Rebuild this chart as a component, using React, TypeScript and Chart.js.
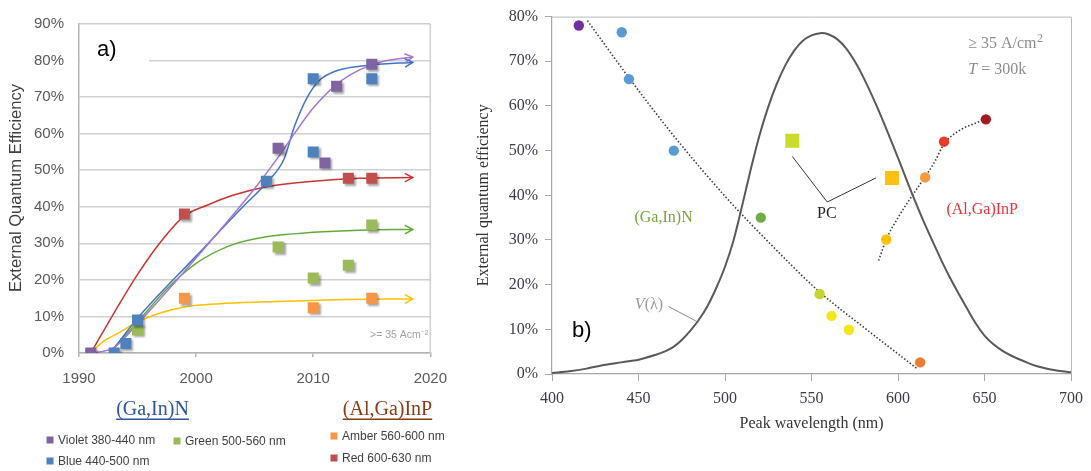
import React, { useEffect, useRef } from "react";
import { Chart, registerables } from "chart.js";

Chart.register(...registerables);

const SANS = "'Liberation Sans', Arial, sans-serif";
const SERIF = "'Liberation Serif', 'Times New Roman', serif";

/* ───────────── Panel a) : EQE by year ───────────── */

const yearMin = 1990;
const yearMax = 2020;
const yearStep = 10;
const eqeAMax = 90;
const eqeStep = 10;

const seriesLabels = ["Violet 380-440 nm", "Blue 440-500 nm", "Green 500-560 nm", "Amber 560-600 nm", "Red 600-630 nm"];
const seriesColors = ["#8064A2", "#4F81BD", "#9BBB59", "#F79646", "#C0504D"];
const trendColors = ["#A477D6", "#4472C4", "#62AA3A", "#FFC000", "#CC3333"];
const groupTitles = ["(Ga,In)N", "(Al,Ga)InP"];
const groupColors = ["#2E54A4", "#8B3A16"];
const currentNoteA = ">= 35 Acm\u207B\u00B2";

// measured devices
const violetYears = [1991, 2007, 2011, 2012, 2015];
const violetEqe = [0, 56, 52, 73, 79];
const blueYears = [1993, 1994, 1995, 2006, 2010, 2010, 2015];
const blueEqe = [0, 2.6, 9, 47, 55, 75, 75];
const greenYears = [1995, 2007, 2010, 2013, 2015];
const greenEqe = [6.3, 29, 20.5, 24, 35];
const amberYears = [1999, 2010, 2015];
const amberEqe = [15, 12.4, 15];
const redYears = [1999, 2013, 2015];
const redEqe = [38, 47.8, 47.8];

// hand-drawn trend curves
const violetTrendYears = [1991, 1992, 1993, 1995, 2000, 2005, 2007, 2008.5, 2010, 2012, 2014, 2016, 2018.5];
const violetTrendEqe = [0, 0.4, 1.5, 8, 26, 45, 53.5, 60.5, 67, 73.5, 77.5, 79.8, 81];
const blueTrendYears = [1993, 1995, 2000, 2004, 2006, 2007.5, 2008.4, 2009.5, 2010.5, 2012, 2015, 2018.5];
const blueTrendEqe = [1.3, 9.5, 26.5, 40, 46.5, 53, 62, 70, 74.5, 77.2, 78.8, 79.5];
const greenTrendYears = [1993, 1995, 1997.5, 2000, 2003, 2006, 2010, 2014, 2018.5];
const greenTrendEqe = [1.5, 8.5, 17.5, 24.5, 29.5, 31.8, 33, 33.6, 33.8];
const amberTrendYears = [1991, 1992, 1993.4, 1995, 1997, 1999, 2002, 2006, 2012, 2018.5];
const amberTrendEqe = [0, 3, 5.5, 8.5, 11, 12.6, 13.5, 14, 14.6, 14.8];
const redTrendYears = [1991, 1993, 1995, 1997, 1999, 2001, 2003, 2006, 2010, 2014, 2018.5];
const redTrendEqe = [0, 11, 21.5, 30.5, 37.5, 40.5, 43, 45.5, 47, 47.8, 48];

/* ───────────── Panel b) : EQE by peak wavelength ───────────── */

const wlMin = 400;
const wlMax = 700;
const wlStep = 50;
const eqeBMax = 80;

const vLambdaNm = [400, 410, 420, 430, 440, 450, 460, 465, 470, 475, 480, 485, 490, 495, 500, 505, 510, 515, 520, 525, 530, 535, 540, 545, 550, 555, 560, 565, 570, 575, 580, 585, 590, 595, 600, 605, 610, 615, 620, 625, 630, 635, 640, 645, 650, 655, 660, 665, 670, 675, 680, 685, 690, 695, 700];
const vLambdaEqe = [0.2, 0.6, 1.2, 2.0, 2.6, 3.2, 4.3, 5.0, 6.0, 7.6, 9.7, 12.2, 15.3, 19.3, 24, 30, 37.8, 46, 53.5, 59.8, 65, 69.2, 72.4, 74.6, 75.8, 76.3, 76, 74.9, 72.9, 70, 66.4, 62.3, 57.9, 53.2, 48.4, 43.4, 38.6, 34, 29.7, 25.5, 21.6, 18, 14.6, 11.3, 8.6, 6.7, 5.3, 4.2, 3.3, 2.5, 1.8, 1.3, 0.9, 0.6, 0.4];

const ganLedNm = [415.5, 440.3, 444.5, 470.4, 520.7, 554.7, 561.6, 571.6, 612.8];
const ganLedEqe = [78, 76.5, 66, 50, 35, 17.9, 13, 9.9, 2.6];
const ganLedColors = ["#7030A0", "#5B9BD5", "#5B9BD5", "#5B9BD5", "#70AD47", "#C4D52F", "#F4E61C", "#F4E61C", "#ED7D31"];
const alinpLedNm = [593.2, 615.7, 626.6, 650.8];
const alinpLedEqe = [30.1, 44, 52, 57];
const alinpLedColors = ["#FFC000", "#F8993B", "#EE3B24", "#A31B20"];
const pcLedNm = [538.9, 596.5];
const pcLedEqe = [52.2, 43.9];
const pcLedColors = ["#CADC2B", "#FFC012"];

const ganTrendNm = [420.5, 444.5, 470, 500, 525, 554, 583, 600, 611];
const ganTrendEqe = [79.1, 66.3, 53.5, 39.8, 29.6, 18.6, 9.6, 4.5, 1.2];
const alinpTrendNm = [588.8, 593.2, 600, 608, 612.8, 621.5, 626.6, 636.8, 646.4, 650];
const alinpTrendEqe = [25.4, 30.1, 35, 39.8, 42.5, 47.7, 51.5, 54.8, 56.4, 57];

// leader lines for the "PC" and "V(λ)" call-outs
const pcLeaderNm = [538.9, 559.1, 587.3];
const pcLeaderEqe = [48.7, 38.5, 43.9];
const vLeaderNm = [467.4, 483.5];
const vLeaderEqe = [15.1, 11.8];

const pts = (xs: number[], ys: number[]) => xs.map((x, i) => ({ x, y: ys[i] }));

/* ───────────── drawing helpers ───────────── */

const panelAPlugin = {
  id: "panelADecor",
  beforeDatasetsDraw(chart: any) {
    const { ctx, chartArea: a } = chart;
    ctx.save();
    ctx.strokeStyle = "#D0D0D0";
    ctx.lineWidth = 1.5;
    ctx.beginPath();
    ctx.moveTo(a.right, a.top);
    ctx.lineTo(a.right, a.bottom);
    ctx.stroke();
    // white tag box holding "a)"
    ctx.fillStyle = "#ffffff";
    ctx.fillRect(a.left + 1, a.top + 1, 69, 48);
    ctx.fillStyle = "#000000";
    ctx.font = `22px ${SANS}`;
    ctx.textBaseline = "middle";
    ctx.textAlign = "left";
    ctx.fillText("a)", a.left + 18, a.top + 26);
    ctx.restore();
  },
  beforeDatasetDraw(chart: any, args: any) {
    if (chart.data.datasets[args.index].kind === "marker") {
      const ctx = chart.ctx;
      ctx.save();
      ctx.shadowColor = "rgba(0,0,0,0.35)";
      ctx.shadowOffsetX = 2;
      ctx.shadowOffsetY = 2;
      ctx.shadowBlur = 2;
    }
  },
  afterDatasetDraw(chart: any, args: any) {
    if (chart.data.datasets[args.index].kind === "marker") chart.ctx.restore();
  },
  afterDatasetsDraw(chart: any) {
    const ctx = chart.ctx;
    chart.data.datasets.forEach((ds: any, i: number) => {
      if (ds.kind !== "trend") return;
      const els = chart.getDatasetMeta(i).data;
      const tip = els[els.length - 1];
      const prev = els[els.length - 2];
      const ang = Math.atan2(tip.y - prev.y, tip.x - prev.x);
      const len = 9;
      ctx.save();
      ctx.strokeStyle = ds.borderColor;
      ctx.lineWidth = 1.5;
      ctx.beginPath();
      ctx.moveTo(tip.x - len * Math.cos(ang - 0.5), tip.y - len * Math.sin(ang - 0.5));
      ctx.lineTo(tip.x, tip.y);
      ctx.lineTo(tip.x - len * Math.cos(ang + 0.5), tip.y - len * Math.sin(ang + 0.5));
      ctx.stroke();
      ctx.restore();
    });
  },
  afterDraw(chart: any) {
    const { ctx, chartArea: a } = chart;
    ctx.save();
    // y-axis title
    ctx.translate(16, 188);
    ctx.rotate(-Math.PI / 2);
    ctx.fillStyle = "#404040";
    ctx.font = `16.5px ${SANS}`;
    ctx.textAlign = "center";
    ctx.textBaseline = "middle";
    ctx.fillText("External Quantum Efficiency", 0, 0);
    ctx.restore();

    ctx.save();
    ctx.fillStyle = "#A0A0A0";
    ctx.font = `10.5px ${SANS}`;
    ctx.textAlign = "right";
    ctx.textBaseline = "middle";
    ctx.fillText(currentNoteA, a.right - 2, 335);

    // legend: group headings
    const headX = [152.5, 387.5];
    groupTitles.forEach((t, g) => {
      ctx.font = `20px ${SERIF}`;
      ctx.fillStyle = groupColors[g];
      ctx.textAlign = "center";
      ctx.textBaseline = "middle";
      ctx.fillText(t, headX[g], 410);
      const w = ctx.measureText(t).width;
      ctx.fillRect(headX[g] - w / 2, 418.5, w, 1.5);
    });
    // legend: entries
    const spots = [[50, 440], [50, 461], [177, 441], [334, 436], [334, 458]];
    ctx.font = `12px ${SANS}`;
    ctx.textAlign = "left";
    seriesLabels.forEach((lab, i) => {
      const [x, y] = spots[i];
      ctx.fillStyle = seriesColors[i];
      ctx.fillRect(x - 3.5, y - 3.5, 7, 7);
      ctx.fillStyle = "#404040";
      ctx.fillText(lab, x + 8, y + 0.5);
    });
    ctx.restore();
  },
};

const panelBPlugin = {
  id: "panelBDecor",
  beforeDatasetsDraw(chart: any) {
    const { ctx, chartArea: a } = chart;
    ctx.save();
    ctx.strokeStyle = "#BBBBBB";
    ctx.lineWidth = 1;
    ctx.beginPath();
    ctx.moveTo(a.left, a.top + 0.5);
    ctx.lineTo(a.right + 0.5, a.top + 0.5);
    ctx.lineTo(a.right + 0.5, a.bottom);
    ctx.stroke();
    ctx.restore();
  },
  afterDatasetsDraw(chart: any) {
    const { ctx } = chart;
    const sx = chart.scales.x;
    const sy = chart.scales.y;
    const X = (v: number) => sx.getPixelForValue(v);
    const Y = (v: number) => sy.getPixelForValue(v);
    ctx.save();
    ctx.textBaseline = "middle";

    // test conditions
    ctx.fillStyle = "#8C8C8C";
    ctx.font = `16px ${SERIF}`;
    ctx.textAlign = "left";
    const cond = "\u2265 35 A/cm";
    ctx.fillText(cond, X(640.6), Y(73.9));
    const cw = ctx.measureText(cond).width;
    ctx.font = `12px ${SERIF}`;
    ctx.fillText("2", X(640.6) + cw + 0.5, Y(73.9) - 5);
    ctx.font = `italic 16px ${SERIF}`;
    ctx.fillText("T", X(640.6), Y(68.2));
    const tw = ctx.measureText("T").width;
    ctx.font = `16px ${SERIF}`;
    ctx.fillText(" = 300k", X(640.6) + tw, Y(68.2));

    // material labels
    ctx.textAlign = "center";
    ctx.fillStyle = "#76A23C";
    ctx.fillText("(Ga,In)N", X(464.5), Y(34.9));
    ctx.fillStyle = "#E8333A";
    ctx.fillText("(Al,Ga)InP", X(648.7), Y(36.8));
    ctx.fillStyle = "#222222";
    ctx.fillText("PC", X(558.9), Y(35.8));

    // V(λ) label
    ctx.textAlign = "left";
    ctx.fillStyle = "#9A9A9A";
    ctx.font = `italic 16px ${SERIF}`;
    const vx = X(447.9);
    ctx.fillText("V", vx, Y(15.6));
    const vw = ctx.measureText("V").width;
    ctx.font = `16px ${SERIF}`;
    ctx.fillText("(\u03BB)", vx + vw, Y(15.6));

    // panel tag
    ctx.fillStyle = "#000000";
    ctx.font = `22px ${SANS}`;
    ctx.fillText("b)", X(411.5), Y(9.6));
    ctx.restore();
  },
};

/* ───────────── components ───────────── */

function PanelA() {
  const ref = useRef<HTMLCanvasElement | null>(null);
  useEffect(() => {
    const markerData = [
      pts(violetYears, violetEqe),
      pts(blueYears, blueEqe),
      pts(greenYears, greenEqe),
      pts(amberYears, amberEqe),
      pts(redYears, redEqe),
    ];
    const trendData = [
      pts(violetTrendYears, violetTrendEqe),
      pts(blueTrendYears, blueTrendEqe),
      pts(greenTrendYears, greenTrendEqe),
      pts(amberTrendYears, amberTrendEqe),
      pts(redTrendYears, redTrendEqe),
    ];
    const datasets: any[] = [];
    markerData.forEach((d, i) =>
      datasets.push({
        kind: "marker",
        label: seriesLabels[i],
        data: d,
        showLine: false,
        pointStyle: "rect",
        pointRadius: 7.8,
        pointBackgroundColor: seriesColors[i],
        pointBorderColor: seriesColors[i],
        pointBorderWidth: 0,
        order: 0,
      })
    );
    trendData.forEach((d, i) =>
      datasets.push({
        kind: "trend",
        label: seriesLabels[i] + " trend",
        data: d,
        borderColor: trendColors[i],
        borderWidth: 1.5,
        pointRadius: 0,
        cubicInterpolationMode: "monotone",
        fill: false,
        order: 1,
      })
    );

    const chart = new Chart(ref.current as HTMLCanvasElement, {
      type: "line",
      data: { datasets },
      options: {
        responsive: false,
        animation: false,
        devicePixelRatio: 1,
        events: [],
        layout: { padding: { left: 0, top: 9, right: 21, bottom: 0 } },
        plugins: { legend: { display: false }, tooltip: { enabled: false } },
        scales: {
          x: {
            type: "linear",
            min: yearMin,
            max: yearMax,
            afterFit: (s: any) => {
              s.height = 118;
            },
            ticks: {
              stepSize: yearStep,
              padding: 13,
              color: "#595959",
              font: { family: SANS, size: 15 },
              callback: (v: any) => String(v),
            },
            grid: { drawOnChartArea: false, drawTicks: true, tickLength: 4, color: "#B3B3B3", lineWidth: 1.5 },
            border: { color: "#B3B3B3", width: 1.5 },
          },
          y: {
            type: "linear",
            min: 0,
            max: eqeAMax,
            afterFit: (s: any) => {
              s.width = 79;
            },
            ticks: {
              stepSize: eqeStep,
              padding: 15,
              color: "#595959",
              font: { family: SANS, size: 15 },
              callback: (v: any) => v + "%",
            },
            grid: { color: "#D0D0D0", lineWidth: 1.5, drawTicks: false },
            border: { color: "#B3B3B3", width: 1.5 },
          },
        },
      } as any,
      plugins: [panelAPlugin],
    });
    return () => chart.destroy();
  }, []);
  return (
    <canvas
      ref={ref}
      width={460}
      height={471}
      style={{ position: "absolute", left: 0, top: 0, width: 460, height: 471 }}
    />
  );
}

function PanelB() {
  const ref = useRef<HTMLCanvasElement | null>(null);
  useEffect(() => {
    const dotted = { borderColor: "#3A3A3A", borderWidth: 1.6, borderDash: [1.5, 2], pointRadius: 0, fill: false };
    const datasets: any[] = [
      {
        label: "GaInN LEDs",
        data: pts(ganLedNm, ganLedEqe),
        showLine: false,
        pointRadius: 5.2,
        pointBackgroundColor: ganLedColors,
        pointBorderColor: ganLedColors,
        pointBorderWidth: 0,
        order: 0,
      },
      {
        label: "AlGaInP LEDs",
        data: pts(alinpLedNm, alinpLedEqe),
        showLine: false,
        pointRadius: 5.2,
        pointBackgroundColor: alinpLedColors,
        pointBorderColor: alinpLedColors,
        pointBorderWidth: 0,
        order: 0,
      },
      {
        label: "PC LEDs",
        data: pts(pcLedNm, pcLedEqe),
        showLine: false,
        pointStyle: "rect",
        pointRadius: 9.9,
        pointBackgroundColor: pcLedColors,
        pointBorderColor: pcLedColors,
        pointBorderWidth: 0,
        order: 0,
      },
      {
        label: "V(\u03BB)",
        data: pts(vLambdaNm, vLambdaEqe),
        borderColor: "#595959",
        borderWidth: 2,
        pointRadius: 0,
        tension: 0.3,
        fill: false,
        order: 1,
      },
      { label: "GaInN trend", data: pts(ganTrendNm, ganTrendEqe), cubicInterpolationMode: "monotone", ...dotted, order: 2 },
      { label: "AlGaInP trend", data: pts(alinpTrendNm, alinpTrendEqe), cubicInterpolationMode: "monotone", ...dotted, order: 2 },
      {
        label: "PC leader",
        data: pts(pcLeaderNm, pcLeaderEqe),
        borderColor: "#333333",
        borderWidth: 1,
        pointRadius: 0,
        tension: 0,
        fill: false,
        order: 2,
      },
      {
        label: "V leader",
        data: pts(vLeaderNm, vLeaderEqe),
        borderColor: "#8A8A8A",
        borderWidth: 1,
        pointRadius: 0,
        tension: 0,
        fill: false,
        order: 2,
      },
    ];

    const chart = new Chart(ref.current as HTMLCanvasElement, {
      type: "line",
      data: { datasets },
      options: {
        responsive: false,
        animation: false,
        devicePixelRatio: 1,
        events: [],
        layout: { padding: { left: 0, top: 9, right: 18, bottom: 0 } },
        plugins: { legend: { display: false }, tooltip: { enabled: false } },
        scales: {
          x: {
            type: "linear",
            min: wlMin,
            max: wlMax,
            afterFit: (s: any) => {
              s.height = 97;
            },
            ticks: {
              stepSize: wlStep,
              padding: 8,
              color: "#3A3A48",
              font: { family: SERIF, size: 16 },
              callback: (v: any) => String(v),
            },
            grid: { drawOnChartArea: false, drawTicks: true, tickLength: 7, color: "#A8A8A8" },
            border: { color: "#A8A8A8", width: 1.2 },
            title: {
              display: true,
              text: "Peak wavelength (nm)",
              color: "#333333",
              font: { family: SERIF, size: 16 },
              padding: { top: 0, bottom: 38 },
            },
          },
          y: {
            type: "linear",
            min: 0,
            max: eqeBMax,
            afterFit: (s: any) => {
              s.width = 92;
            },
            ticks: {
              stepSize: eqeStep,
              padding: 7,
              color: "#3A3A48",
              font: { family: SERIF, size: 16 },
              callback: (v: any) => v + "%",
            },
            grid: { drawOnChartArea: false, drawTicks: true, tickLength: 7, color: "#A8A8A8" },
            border: { color: "#A8A8A8", width: 1.2 },
            title: {
              display: true,
              text: "External quantum efficiency",
              color: "#333333",
              font: { family: SERIF, size: 16 },
              padding: { top: 14, bottom: 0 },
            },
          },
        },
      } as any,
      plugins: [panelBPlugin],
    });
    return () => chart.destroy();
  }, []);
  return (
    <canvas
      ref={ref}
      width={631}
      height={471}
      style={{ position: "absolute", left: 460, top: 0, width: 631, height: 471 }}
    />
  );
}

export default function App() {
  return (
    <div
      style={{
        position: "fixed",
        left: 0,
        top: 0,
        width: 1091,
        height: 471,
        background: "#ffffff",
        overflow: "hidden",
      }}
    >
      <PanelA />
      <PanelB />
    </div>
  );
}
